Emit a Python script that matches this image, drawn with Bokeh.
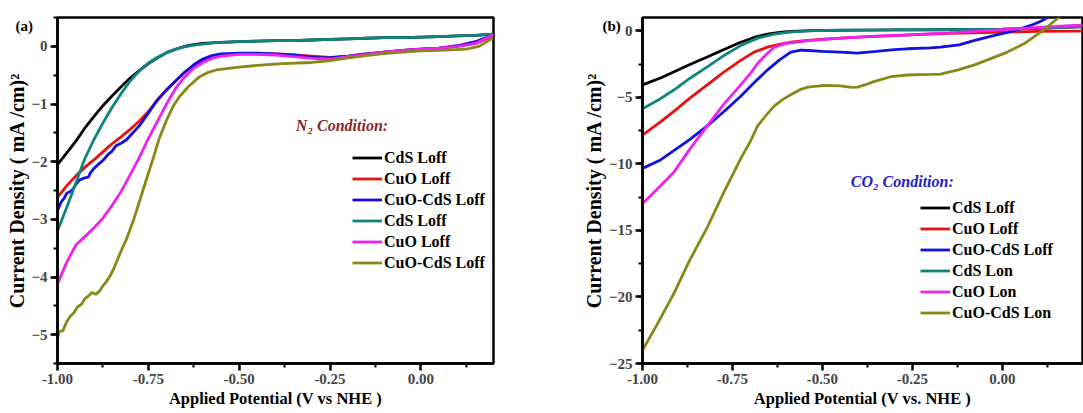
from bokeh.plotting import figure
from bokeh.layouts import row
from bokeh.models import Legend, LegendItem, Label, FixedTicker, PrintfTickFormatter, Range1d, Title
from bokeh.embed import file_html
from bokeh.resources import INLINE

FONT = "Liberation Serif"

# ---------------- Panel (a): N2 condition ----------------
a_labels = ["CdS Loff", "CuO Loff", "CuO-CdS Loff", "CdS Loff", "CuO Loff", "CuO-CdS Loff"]
a_colors = ["#000000", "#E81010", "#1010E0", "#10857E", "#EE22EE", "#888816"]

a_cds_x = [-1.00, -0.975, -0.95, -0.925, -0.90, -0.875, -0.85, -0.825, -0.80, -0.775, -0.75, -0.725, -0.70,
           -0.675, -0.65, -0.625, -0.60, -0.575, -0.55, -0.50, -0.45, -0.40, -0.35, -0.30, -0.25, -0.20,
           -0.15, -0.10, -0.05, 0.00, 0.05, 0.10, 0.15, 0.20]
a_cds_y = [-2.05, -1.85, -1.65, -1.42, -1.22, -1.03, -0.86, -0.70, -0.55, -0.42, -0.30, -0.20, -0.11,
           -0.05, 0.00, 0.03, 0.05, 0.06, 0.07, 0.08, 0.09, 0.10, 0.10, 0.11, 0.12, 0.13,
           0.14, 0.15, 0.15, 0.16, 0.17, 0.18, 0.19, 0.21]

a_cuo_x = a_cds_x
a_cuo_y = [-2.62, -2.42, -2.25, -2.10, -1.97, -1.83, -1.69, -1.57, -1.44, -1.30, -1.13, -0.93, -0.75,
           -0.60, -0.45, -0.33, -0.24, -0.18, -0.15, -0.13, -0.13, -0.13, -0.15, -0.17, -0.19, -0.17,
           -0.13, -0.10, -0.07, -0.05, -0.03, 0.00, 0.05, 0.18]

a_cuocds_x = [-1.00, -0.99, -0.98, -0.975, -0.96, -0.95, -0.94, -0.925, -0.915, -0.91, -0.90, -0.89, -0.875,
              -0.86, -0.85, -0.84, -0.825, -0.81, -0.80, -0.775, -0.75, -0.725, -0.70, -0.675, -0.65, -0.625,
              -0.60, -0.575, -0.55, -0.50, -0.45, -0.40, -0.35, -0.30, -0.25, -0.20, -0.15, -0.10, -0.05,
              0.00, 0.05, 0.10, 0.15, 0.20]
a_cuocds_y = [-2.85, -2.70, -2.62, -2.55, -2.50, -2.40, -2.32, -2.28, -2.27, -2.20, -2.12, -2.06, -1.98,
              -1.87, -1.82, -1.73, -1.68, -1.62, -1.55, -1.38, -1.16, -0.93, -0.76, -0.60, -0.45, -0.32,
              -0.22, -0.16, -0.13, -0.12, -0.12, -0.13, -0.15, -0.19, -0.20, -0.17, -0.13, -0.10, -0.07,
              -0.05, -0.03, 0.01, 0.08, 0.20]

a_cds2_x = a_cds_x
a_cds2_y = [-3.20, -2.80, -2.38, -1.95, -1.62, -1.33, -1.06, -0.82, -0.60, -0.43, -0.29, -0.19, -0.11,
            -0.05, -0.01, 0.02, 0.04, 0.06, 0.07, 0.08, 0.09, 0.10, 0.10, 0.11, 0.12, 0.13,
            0.14, 0.15, 0.15, 0.16, 0.17, 0.18, 0.19, 0.21]

a_cuo2_x = a_cds_x
a_cuo2_y = [-4.12, -3.75, -3.45, -3.30, -3.15, -2.98, -2.76, -2.52, -2.23, -1.93, -1.60, -1.30, -1.00,
            -0.73, -0.53, -0.38, -0.28, -0.21, -0.17, -0.14, -0.14, -0.15, -0.18, -0.21, -0.22, -0.18,
            -0.14, -0.10, -0.07, -0.05, -0.03, 0.00, 0.05, 0.20]

a_cuocds2_x = [-1.00, -0.995, -0.985, -0.975, -0.965, -0.955, -0.945, -0.935, -0.925, -0.915, -0.905, -0.895,
               -0.885, -0.875, -0.865, -0.855, -0.845, -0.835, -0.825, -0.81, -0.79, -0.773, -0.755, -0.738,
               -0.72, -0.70, -0.68, -0.664, -0.64, -0.61, -0.585, -0.563, -0.50, -0.45, -0.383, -0.30,
               -0.254, -0.20, -0.15, -0.109, -0.05, 0.00, 0.05, 0.125, 0.16, 0.20]
a_cuocds2_y = [-5.08, -4.95, -4.93, -4.78, -4.68, -4.62, -4.52, -4.48, -4.38, -4.33, -4.27, -4.30,
               -4.25, -4.15, -4.08, -3.98, -3.85, -3.70, -3.55, -3.34, -3.00, -2.66, -2.30, -1.97,
               -1.60, -1.28, -1.02, -0.87, -0.70, -0.53, -0.45, -0.41, -0.36, -0.33, -0.30, -0.28,
               -0.25, -0.20, -0.16, -0.13, -0.10, -0.08, -0.07, -0.05, 0.00, 0.15]

# ---------------- Panel (b): CO2 condition ----------------
b_labels = ["CdS Loff", "CuO Loff", "CuO-CdS Loff", "CdS Lon", "CuO Lon", "CuO-CdS Lon"]
b_colors = a_colors

b_cds_x = [-1.00, -0.95, -0.912, -0.87, -0.82, -0.775, -0.727, -0.69, -0.653, -0.62, -0.588, -0.55,
           -0.50, -0.40, -0.30, -0.20, -0.10, 0.00, 0.10, 0.20, 0.223]
b_cds_y = [-4.06, -3.55, -3.08, -2.55, -1.97, -1.42, -0.86, -0.50, -0.25, -0.12, -0.05, 0.00,
           0.03, 0.05, 0.07, 0.08, 0.10, 0.12, 0.18, 0.30, 0.32]

b_cuo_x = [-1.00, -0.95, -0.912, -0.87, -0.82, -0.775, -0.727, -0.69, -0.653, -0.62, -0.588, -0.54,
           -0.496, -0.40, -0.30, -0.25, -0.15, -0.05, 0.00, 0.10, 0.20, 0.223]
b_cuo_y = [-7.83, -6.85, -6.03, -5.10, -4.06, -3.12, -2.22, -1.60, -1.23, -1.02, -0.86, -0.72,
           -0.62, -0.48, -0.36, -0.30, -0.20, -0.13, -0.10, -0.05, -0.02, -0.02]

b_cuocds_x = [-1.00, -0.95, -0.912, -0.87, -0.82, -0.775, -0.727, -0.69, -0.653, -0.62, -0.588, -0.56,
              -0.54, -0.50, -0.449, -0.403, -0.35, -0.30, -0.264, -0.20, -0.172, -0.12, -0.079, -0.03,
              0.014, 0.05, 0.088, 0.11, 0.125, 0.14]
b_cuocds_y = [-10.34, -9.70, -8.99, -8.20, -7.14, -6.10, -4.92, -3.90, -2.95, -2.20, -1.60, -1.45,
              -1.48, -1.55, -1.60, -1.67, -1.55, -1.42, -1.35, -1.28, -1.23, -1.05, -0.74, -0.40,
              -0.12, 0.15, 0.49, 0.75, 1.00, 1.30]

b_cds2_x = [-1.00, -0.95, -0.912, -0.87, -0.82, -0.775, -0.727, -0.68, -0.634, -0.59, -0.54, -0.45,
            -0.30, -0.10, 0.00, 0.10, 0.20, 0.223]
b_cds2_y = [-5.86, -5.10, -4.43, -3.60, -2.71, -1.88, -1.11, -0.55, -0.25, -0.10, 0.00, 0.05,
            0.07, 0.10, 0.12, 0.18, 0.28, 0.30]

b_cuo2_x = [-1.00, -0.95, -0.912, -0.87, -0.82, -0.775, -0.727, -0.70, -0.68, -0.655, -0.634, -0.60,
            -0.54, -0.45, -0.35, -0.25, -0.15, -0.05, 0.00, 0.10, 0.20, 0.223]
b_cuo2_y = [-13.0, -11.65, -10.6, -8.95, -7.14, -5.55, -4.06, -3.20, -2.46, -1.75, -1.23, -0.95,
            -0.74, -0.55, -0.40, -0.28, -0.15, 0.00, 0.08, 0.25, 0.40, 0.42]

b_cuocds2_x = [-1.00, -0.96, -0.912, -0.87, -0.82, -0.775, -0.727, -0.70, -0.68, -0.655, -0.634, -0.61,
               -0.588, -0.56, -0.54, -0.495, -0.449, -0.42, -0.403, -0.38, -0.357, -0.31, -0.264, -0.20,
               -0.172, -0.125, -0.079, -0.032, 0.014, 0.06, 0.106, 0.134, 0.157, 0.17]
b_cuocds2_y = [-24.0, -22.1, -19.7, -17.3, -14.77, -12.2, -9.6, -8.3, -7.14, -6.3, -5.66, -5.15,
               -4.80, -4.40, -4.23, -4.10, -4.14, -4.25, -4.23, -4.05, -3.82, -3.45, -3.32, -3.28,
               -3.26, -2.95, -2.58, -2.09, -1.60, -0.98, -0.12, 0.49, 1.00, 1.40]

x_ticks = [-1.0, -0.75, -0.5, -0.25, 0.0]
x_minor = [-0.875, -0.625, -0.375, -0.125, 0.125]
y_num_ticks = 6
y_title = "Current Density ( mA /cm)²"


def make_fig(width, left, right, top, bottom, xr, yr, xlabel):
    p = figure(width=width, height=413, x_range=Range1d(*xr), y_range=Range1d(*yr),
               output_backend="svg", toolbar_location=None,
               min_border_left=left, min_border_right=right,
               min_border_top=top, min_border_bottom=bottom)
    p.grid.visible = False
    p.outline_line_color = "black"
    p.outline_line_width = 2.5
    p.xaxis.ticker = FixedTicker(ticks=x_ticks, minor_ticks=x_minor)
    p.xaxis.formatter = PrintfTickFormatter(format="%.2f")
    p.yaxis.ticker.desired_num_ticks = y_num_ticks
    p.yaxis.ticker.num_minor_ticks = 2
    for ax in (p.xaxis[0], p.yaxis[0]):
        ax.axis_line_width = 2.5
        ax.major_tick_line_width = 2.5
        ax.minor_tick_line_width = 2
        ax.major_tick_out = 7
        ax.minor_tick_out = 4
        ax.major_tick_in = 0
        ax.minor_tick_in = 0
        ax.major_label_text_font = FONT
        ax.major_label_text_font_style = "bold"
        ax.major_label_text_font_size = "15px"
        ax.major_label_standoff = 3
    p.add_layout(Title(text=xlabel, align="center", standoff=1, text_font=FONT,
                       text_font_style="bold", text_font_size="16.5px", text_color="black"), "below")
    p.add_layout(Title(text=y_title, align="center", standoff=1, text_font=FONT,
                       text_font_style="bold", text_font_size="20px", text_color="black"), "left")
    return p


def add_series(p, xs, ys, labels, colors, loc):
    items = []
    for x, y, lab, c in zip(xs, ys, labels, colors):
        r = p.line(x, y, line_color=c, line_width=2.8)
        items.append(LegendItem(label=lab, renderers=[r]))
    leg = Legend(items=items, location=loc, glyph_width=30, glyph_height=21, label_height=21,
                 spacing=0, padding=0, margin=0, label_standoff=2, border_line_color=None,
                 background_fill_alpha=0, label_text_font=FONT, label_text_font_style="bold",
                 label_text_font_size="16px", label_text_color="black")
    p.add_layout(leg)


def add_tag(p, text, offset):
    p.add_layout(Title(text=text, align="left", offset=offset, standoff=-32,
                       vertical_align="bottom", text_font=FONT, text_font_style="bold",
                       text_font_size="15px", text_color="black"), "above")


# Panel a
pa = make_fig(540, 57, 47, 17, 50, (-1.0, 0.2), (-5.5, 0.5), "Applied Potential (V vs NHE )")
add_series(pa,
           [a_cds_x, a_cuo_x, a_cuocds_x, a_cds2_x, a_cuo2_x, a_cuocds2_x],
           [a_cds_y, a_cuo_y, a_cuocds_y, a_cds2_y, a_cuo2_y, a_cuocds2_y],
           a_labels, a_colors, (295, 90))
pa.add_layout(Label(x=-0.344, y=-1.38, text="N₂ Condition:", text_font=FONT,
                    text_font_style="bold italic", text_font_size="16px", text_color="#8B2525",
                    text_baseline="middle", text_align="left"))
add_tag(pa, "(a)", -42)

# Panel b
pb = make_fig(543, 102, 1, 16, 45, (-1.0, 0.223), (-25, 1), "Applied Potential (V vs. NHE )")
add_series(pb,
           [b_cds_x, b_cuo_x, b_cuocds_x, b_cds2_x, b_cuo2_x, b_cuocds2_x],
           [b_cds_y, b_cuo_y, b_cuocds_y, b_cds2_y, b_cuo2_y, b_cuocds2_y],
           b_labels, b_colors, (278, 40))
pb.add_layout(Label(x=-0.421, y=-11.3, text="CO₂ Condition:", text_font=FONT,
                    text_font_style="bold italic", text_font_size="16px", text_color="#2020C8",
                    text_baseline="middle", text_align="left"))
add_tag(pb, "(b)", -40)

layout = row(pa, pb)
open("out.html", "w").write(file_html(layout, INLINE))
